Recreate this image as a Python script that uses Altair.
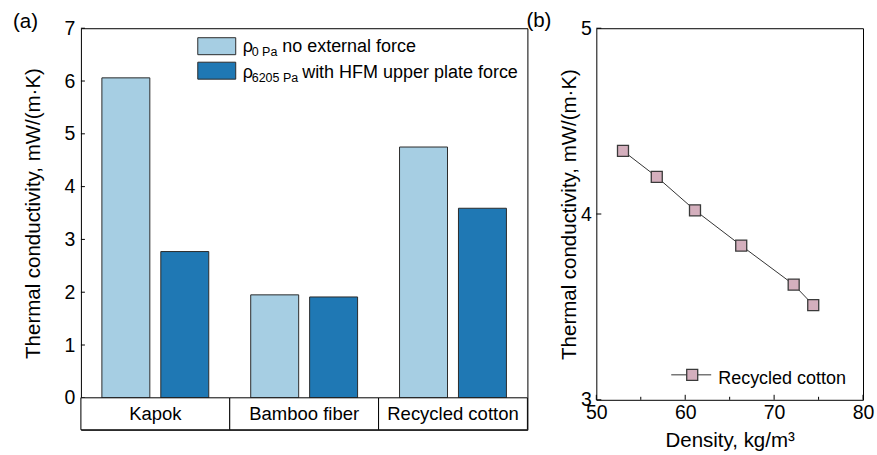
import altair as alt
import pandas as pd

# ---- panel (a): thermal conductivity of three fibre fillings ----
materials = ["Kapok", "Bamboo fiber", "Recycled cotton"]
series = ["0 Pa", "6205 Pa"]
k_no_force = [6.06, 1.95, 4.75]
k_hfm_force = [2.77, 1.91, 3.59]
series_colors = ["#a6cee3", "#1f78b4"]
legend_sub = ["0 Pa", "6205 Pa"]
legend_text = ["no external force", "with HFM upper plate force"]
y_ticks_a = [0, 1, 2, 3, 4, 5, 6, 7]

# ---- panel (b): recycled cotton, conductivity vs. density ----
density = [53.0, 56.8, 61.1, 66.3, 72.2, 74.4]
k_cotton = [4.34, 4.20, 4.02, 3.83, 3.62, 3.51]
x_major_b = [50, 60, 70, 80]
x_minor_b = [55, 65, 75]
y_ticks_b = [3, 4, 5]
legend_b = ["Recycled cotton"]

FONT = "Liberation Sans"
LABEL_SIZE = 19.5
TITLE_SIZE = 20.5
Y_TITLE = "Thermal conductivity, mW/(m\u00b7K)"
W_A, H_BARS, H_STRIP = 447, 370, 32
H_A = H_BARS + H_STRIP
# the category strip lives below zero inside the same frame
Y_MIN_A = -7.0 * H_STRIP / H_BARS
W_B, H_B = 267, 372

bar_df = pd.DataFrame(
    [{"material": m, "series": series[0], "k": v} for m, v in zip(materials, k_no_force)]
    + [{"material": m, "series": series[1], "k": v} for m, v in zip(materials, k_hfm_force)]
)


def one_row(**kw):
    return pd.DataFrame([kw])


axis_common = dict(ticks=False, domain=False, grid=False, labelOverlap=False,
                   labelFlush=False, labelFontSize=LABEL_SIZE,
                   titleFontSize=TITLE_SIZE)

x_cat = alt.X("material:N", sort=materials,
              scale=alt.Scale(paddingInner=0, paddingOuter=0), axis=None)
y_a = alt.Y("k:Q", scale=alt.Scale(domain=[Y_MIN_A, 7], nice=False, zero=False),
            axis=alt.Axis(values=y_ticks_a, labelPadding=6, title=Y_TITLE,
                          titlePadding=20.5, titleY=H_BARS / 2, **axis_common))

# bars
bars = alt.Chart(bar_df).mark_bar(stroke="#2b2b2b", strokeWidth=1).encode(
    x=x_cat,
    xOffset=alt.XOffset("series:N", sort=series,
                        scale=alt.Scale(paddingInner=0.186, paddingOuter=0.356)),
    y=y_a,
    y2=alt.datum(0),
    color=alt.Color("series:N", scale=alt.Scale(domain=series, range=series_colors),
                    legend=None),
)

# inward tick marks on the left axis
ticks_a = alt.Chart(pd.DataFrame({"k": y_ticks_a})).mark_rule(
    color="black", strokeWidth=1
).encode(y=y_a, x=alt.value(0), x2=alt.value(4))

# category strip under the bars
strip_df = pd.DataFrame({"material": materials})
strip_box = alt.Chart(strip_df).mark_rect(
    fill="white", stroke="black", strokeWidth=1
).encode(x=x_cat, y=alt.value(H_BARS), y2=alt.value(H_A))
strip_text = alt.Chart(strip_df).mark_text(
    font=FONT, fontSize=18.5, color="black", baseline="middle"
).encode(x=x_cat, y=alt.value(H_BARS + H_STRIP / 2 + 0.5), text="material:N")

# legend for panel (a)
legend_rows_y = [(9.5, 26.5, 24.3), (34.0, 51.0, 50.3)]
legend_layers = []
for i, (y0, y1, base) in enumerate(legend_rows_y):
    d = one_row(color=series_colors[i], sub=legend_sub[i], txt=legend_text[i])
    legend_layers.append(
        alt.Chart(d).mark_rect(stroke="#2b2b2b", strokeWidth=1).encode(
            x=alt.value(117), x2=alt.value(155), y=alt.value(y0), y2=alt.value(y1),
            fill=alt.Fill("color:N", scale=None))
    )
    legend_layers.append(
        alt.Chart(d).mark_text(text="\u03c1", font=FONT, fontSize=18, align="left",
                               baseline="alphabetic", color="black").encode(
            x=alt.value(162), y=alt.value(base))
    )
    legend_layers.append(
        alt.Chart(d).mark_text(font=FONT, fontSize=12.5, align="left",
                               baseline="alphabetic", color="black").encode(
            x=alt.value(171), y=alt.value(base + 3.5), text="sub:N")
    )
    legend_layers.append(
        alt.Chart(d).mark_text(font=FONT, fontSize=18, align="left",
                               baseline="alphabetic", color="black").encode(
            x=alt.value(201.5 if i == 0 else 221.5), y=alt.value(base), text="txt:N")
    )

tag_a = alt.Chart(one_row(tag="(a)")).mark_text(
    font=FONT, fontSize=TITLE_SIZE, align="left", baseline="alphabetic", color="black"
).encode(x=alt.value(-68), y=alt.value(-0.5), text="tag:N")

panel_a = alt.layer(bars, ticks_a, strip_box, strip_text, *legend_layers, tag_a).properties(
    width=W_A, height=H_A)

# ---- panel (b) ----
cot_df = pd.DataFrame({"density": density, "k": k_cotton})
x_b = alt.X("density:Q", scale=alt.Scale(domain=[50, 80], nice=False),
            axis=alt.Axis(values=x_major_b, labelPadding=4, format=".0f",
                          title="Density, kg/m\u00b3", titlePadding=8, **axis_common))
y_b = alt.Y("k:Q", scale=alt.Scale(domain=[3, 5], nice=False),
            axis=alt.Axis(values=y_ticks_b, labelPadding=5, format=".0f",
                          title=Y_TITLE, titlePadding=1, **axis_common))

line_b = alt.Chart(cot_df).mark_line(color="#333333", strokeWidth=1).encode(x=x_b, y=y_b)
pts_b = alt.Chart(cot_df).mark_square(
    size=121, fill="#d4afbd", stroke="#3a3a3a", strokeWidth=1.3, opacity=1
).encode(x=x_b, y=y_b)

# inward tick marks (major and minor) on panel (b)
ticks_bx = alt.Chart(pd.DataFrame({"density": x_major_b})).mark_rule(
    color="black", strokeWidth=1
).encode(x=x_b, y=alt.value(H_B - 5), y2=alt.value(H_B))
ticks_bxm = alt.Chart(pd.DataFrame({"density": x_minor_b})).mark_rule(
    color="black", strokeWidth=1
).encode(x=x_b, y=alt.value(H_B - 3), y2=alt.value(H_B))
ticks_by = alt.Chart(pd.DataFrame({"k": y_ticks_b})).mark_rule(
    color="black", strokeWidth=1
).encode(y=y_b, x=alt.value(0), x2=alt.value(5))

leg_b_df = one_row(label=legend_b[0])
leg_b_line = alt.Chart(leg_b_df).mark_rule(color="#333333", strokeWidth=1).encode(
    x=alt.value(75), x2=alt.value(115), y=alt.value(347))
leg_b_pt = alt.Chart(leg_b_df).mark_square(
    size=121, fill="#d4afbd", stroke="#3a3a3a", strokeWidth=1.3, opacity=1
).encode(x=alt.value(96), y=alt.value(347))
leg_b_txt = alt.Chart(leg_b_df).mark_text(
    font=FONT, fontSize=18, align="left", baseline="alphabetic", color="black"
).encode(x=alt.value(122), y=alt.value(356), text="label:N")

tag_b = alt.Chart(one_row(tag="(b)")).mark_text(
    font=FONT, fontSize=TITLE_SIZE, align="left", baseline="alphabetic", color="black"
).encode(x=alt.value(-70), y=alt.value(-1.5), text="tag:N")

panel_b = alt.layer(line_b, pts_b, ticks_bx, ticks_bxm, ticks_by,
                    leg_b_line, leg_b_pt, leg_b_txt, tag_b).properties(
    width=W_B, height=H_B)

chart = alt.hconcat(panel_a, panel_b, spacing=-3).properties(
    padding={"left": 12, "top": 10, "right": 2, "bottom": 2},
    background="white",
).configure_view(
    stroke="black", strokeWidth=1
).configure_axis(
    labelFont=FONT, titleFont=FONT, labelColor="black", titleColor="black",
    titleFontWeight="normal"
)

chart.save("out.html", embed_options={"renderer": "svg", "actions": False})
